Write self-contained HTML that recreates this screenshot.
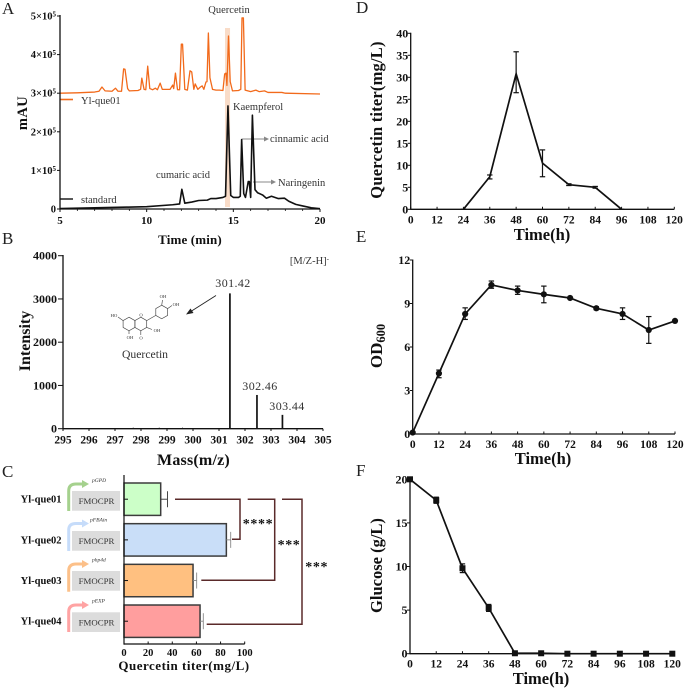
<!DOCTYPE html>
<html lang="en">
<head>
<meta charset="utf-8">
<title>Quercetin production figure</title>
<style>
html,body{margin:0;padding:0;background:#fff;width:685px;height:690px;overflow:hidden}
svg{display:block;font-family:"Liberation Serif",serif;filter:blur(0.3px)}
text{fill:#111}
.b{font-weight:bold}
.ann{fill:#333}
.mol{font-size:4.6px;fill:#333;text-anchor:middle}
.panel{font-size:17px;fill:#222}
</style>
</head>
<body>
<svg id="fig" xmlns="http://www.w3.org/2000/svg" width="685" height="690" viewBox="0 0 685 690">
  <text class="panel" x="2" y="14">A</text>
  <text class="panel" x="2" y="244">B</text>
  <text class="panel" x="2" y="477">C</text>
  <text class="panel" x="356" y="13">D</text>
  <text class="panel" x="356" y="242">E</text>
  <text class="panel" x="356" y="476">F</text>

  <!-- Panel A annotations -->
  <g id="a-under"></g>
  <text x="229" y="13" font-size="10.5" text-anchor="middle" class="ann">Quercetin</text>
  <text x="233" y="110" font-size="10.5" class="ann">Kaempferol</text>
  <text x="270" y="142" font-size="10.5" class="ann">cinnamic acid</text>
  <text x="278" y="186" font-size="10.5" class="ann">Naringenin</text>
  <text x="183" y="178" font-size="10.5" text-anchor="middle" class="ann">cumaric acid</text>
  <text x="81" y="104" font-size="10.5" class="ann">Yl-que01</text>
  <text x="81" y="203" font-size="10.5" class="ann">standard</text>
  <line x1="60" y1="99.5" x2="73" y2="99.5" stroke="#f26a1b" stroke-width="1.6"/>
  <line x1="60" y1="199" x2="73" y2="199" stroke="#111" stroke-width="1.4"/>
  <g>
    <line x1="242" y1="139" x2="265" y2="139" stroke="#888" stroke-width="0.9"/>
    <polygon points="264,136.5 269,139 264,141.5" fill="#888"/>
  </g>
  <g>
    <line x1="253" y1="182" x2="272" y2="182" stroke="#888" stroke-width="0.9"/>
    <polygon points="271,179.5 276,182 271,184.5" fill="#888"/>
  </g>
  <text class="b" x="190" y="244" font-size="13" text-anchor="middle" letter-spacing="0.15">Time (min)</text>
  <text class="b" transform="translate(27,113) rotate(-90)" font-size="14.5" text-anchor="middle" letter-spacing="0.4">mAU</text>

  <!-- Panel B annotations -->
  <text x="329" y="264" font-size="10.5" text-anchor="end" class="ann">[M/Z-H]<tspan font-size="7" dy="-3">-</tspan></text>
  <text x="233" y="287" font-size="12" text-anchor="middle" class="ann" letter-spacing="0.4">301.42</text>
  <text x="260" y="390" font-size="12" text-anchor="middle" class="ann" letter-spacing="0.4">302.46</text>
  <text x="287" y="410" font-size="12" text-anchor="middle" class="ann" letter-spacing="0.4">303.44</text>
  <g>
    <line x1="216" y1="295.5" x2="190" y2="312" stroke="#222" stroke-width="0.9"/>
    <polygon points="186,314.5 190.5,308.5 193.5,313" fill="#222"/>
  </g>
  <g fill="none" stroke="#444" stroke-width="0.65">
    <polygon points="129,317.2 134.9,320.6 134.9,327.4 129,330.8 123.1,327.4 123.1,320.6"/>
    <polygon points="140.8,317.2 146.7,320.6 146.7,327.4 140.8,330.8 134.9,327.4 134.9,320.6"/>
    <polygon points="161.7,305.2 167.6,308.6 167.6,315.4 161.7,318.8 155.8,315.4 155.8,308.6"/>
    <line x1="146.7" y1="320.6" x2="155.8" y2="315.4"/>
    <line x1="123.1" y1="320.6" x2="118" y2="317"/>
    <line x1="129" y1="330.8" x2="129" y2="334"/>
    <line x1="140.8" y1="330.8" x2="140.8" y2="335"/>
    <line x1="146.7" y1="327.4" x2="152" y2="329.5"/>
    <line x1="161.7" y1="305.2" x2="162.5" y2="300"/>
    <line x1="167.6" y1="308.6" x2="172" y2="305.5"/>
    <text class="mol" stroke="none" x="114" y="317">HO</text>
    <text class="mol" stroke="none" x="130" y="339">OH</text>
    <text class="mol" stroke="none" x="141" y="339.5">O</text>
    <text class="mol" stroke="none" x="157" y="332">OH</text>
    <text class="mol" stroke="none" x="163" y="298">OH</text>
    <text class="mol" stroke="none" x="176" y="306">OH</text>
    <text class="mol" stroke="none" x="141" y="316.5">O</text>
  </g>
  <text x="145" y="358" font-size="11.7" text-anchor="middle" class="ann">Quercetin</text>
  <text class="b" x="193.5" y="465" font-size="16" text-anchor="middle" letter-spacing="0.2">Mass(m/z)</text>
  <text class="b" transform="translate(30,341) rotate(-90)" font-size="16" text-anchor="middle">Intensity</text>

  <!-- Panel C constructs -->
  <g>
    <rect x="72" y="491" width="48" height="19.7" fill="#dcdcdc"/>
    <text x="96.5" y="504" font-size="8.8" text-anchor="middle" class="ann">FMOCPR</text>
    <path d="M68.7 511V491Q68.7 484 76 484H83" fill="none" stroke="#a5d18d" stroke-width="3"/>
    <polygon points="82,480 89,484 82,488" fill="#a5d18d"/>
    <text x="92" y="482" font-size="5.5" font-style="italic" class="ann">pGPD</text>
  </g>
  <g>
    <rect x="72" y="531" width="48" height="19.7" fill="#dcdcdc"/>
    <text x="96.5" y="544" font-size="8.8" text-anchor="middle" class="ann">FMOCPR</text>
    <path d="M68.7 551V530Q68.7 523.5 76 523.5H83" fill="none" stroke="#c6dcfa" stroke-width="3"/>
    <polygon points="82,519.5 89,523.5 82,527.5" fill="#c6dcfa"/>
    <text x="90" y="521.7" font-size="5.5" font-style="italic" class="ann">pFBAin</text>
  </g>
  <g>
    <rect x="72" y="571" width="48" height="19.7" fill="#dcdcdc"/>
    <text x="96.5" y="584" font-size="8.8" text-anchor="middle" class="ann">FMOCPR</text>
    <path d="M68.7 591.7V571Q68.7 564 76 564H83" fill="none" stroke="#fcc089" stroke-width="3"/>
    <polygon points="82,560 89,564 82,568" fill="#fcc089"/>
    <text x="92" y="561.7" font-size="5.5" font-style="italic" class="ann">php4d</text>
  </g>
  <g>
    <rect x="72" y="612.3" width="48" height="19.7" fill="#dcdcdc"/>
    <text x="96.5" y="625.3" font-size="8.8" text-anchor="middle" class="ann">FMOCPR</text>
    <path d="M68.7 632V612Q68.7 605 76 605H83" fill="none" stroke="#ffa3a3" stroke-width="3"/>
    <polygon points="82,601 89,605 82,609" fill="#ffa3a3"/>
    <text x="92" y="602.7" font-size="5.5" font-style="italic" class="ann">pEXP</text>
  </g>
  <g fill="none" stroke="#5a2a2a" stroke-width="1.5">
    <polyline points="175,499.3 240,499.3 240,539.3 232,539.3"/>
    <polyline points="247.7,499.3 274.7,499.3 274.7,580.3 201.3,580.3"/>
    <polyline points="282,499.3 302,499.3 302,624.3 206.7,624.3"/>
  </g>
  <text class="b" x="258" y="528" font-size="14" text-anchor="middle" letter-spacing="0.6">****</text>
  <text class="b" x="289" y="549" font-size="14" text-anchor="middle" letter-spacing="0.6">***</text>
  <text class="b" x="316.7" y="571" font-size="14" text-anchor="middle" letter-spacing="0.6">***</text>
  <text class="b" x="184" y="670" font-size="13" text-anchor="middle" letter-spacing="0.5">Quercetin titer(mg/L)</text>

  <!-- Right column titles -->
  <text class="b" x="542" y="240" font-size="16.5" text-anchor="middle">Time(h)</text>
  <text class="b" transform="translate(382,120) rotate(-90)" font-size="16.5" text-anchor="middle" letter-spacing="0.2">Quercetin titer(mg/L)</text>
  <text class="b" x="543" y="464" font-size="16.5" text-anchor="middle">Time(h)</text>
  <text class="b" transform="translate(382,346) rotate(-90)" font-size="17" text-anchor="middle">OD<tspan font-size="12.5" dy="3">600</tspan></text>
  <text class="b" x="541" y="684" font-size="16.5" text-anchor="middle">Time(h)</text>
  <text class="b" transform="translate(382,565.5) rotate(-90)" font-size="16.5" text-anchor="middle">Glucose (g/L)</text>
</svg>

<script>
// Panel A – chromatograms (retention time in min, signal in units of 10^5 mAU)
const aOrangeTimes = [5,6,7,7.25,7.42,7.6,8,8.2,8.35,8.55,8.67,8.75,8.9,9,9.5,9.65,9.72,9.85,9.95,10.06,10.18,10.35,10.5,10.62,10.78,10.9,11.35,11.5,11.56,11.66,11.78,11.9,12,12.07,12.2,12.35,12.5,12.6,12.72,12.8,12.95,13.1,13.2,13.3,13.42,13.48,13.56,13.65,13.8,14,14.2,14.4,14.5,14.58,14.63,14.72,14.82,14.95,15.3,15.43,15.5,15.58,15.68,16,16.3,16.5,16.8,17,17.8,18,20];
const aOrangeValues = [3,3.01,3.03,3.05,3.16,3.06,3.05,3.13,3.05,3.05,3.63,3.62,3.12,3.06,3.07,3.1,3.39,3.1,3.09,3.7,3.12,3.09,3.13,3.09,3.26,3.1,3.1,3.21,3.12,3.52,3.09,3.09,4.27,4.27,3.1,3.08,3.58,3.55,3.1,3.24,3.1,3.16,3.19,3.1,3.29,3.3,4.56,3.4,3.1,3.08,3.08,3.07,3.5,3.52,3.2,4.48,3.3,3.06,3.07,3.1,4.95,4.95,3.08,3.04,3.08,3.04,3.06,3.02,3.02,3,2.98];
const aBlackTimes = [5,10,11.5,11.9,12.03,12.2,12.6,13,13.5,13.7,14,14.4,14.55,14.69,14.85,15,15.3,15.4,15.48,15.6,15.7,15.86,15.92,16,16.1,16.25,16.4,16.6,16.7,16.9,17.2,17.6,17.95,18.2,18.6,19,19.5,20];
const aBlackValues = [0.01,0.06,0.11,0.13,0.51,0.15,0.18,0.22,0.23,0.27,0.27,0.3,0.33,2.67,0.35,0.3,0.3,0.33,1.8,0.4,0.3,0.71,0.71,0.3,2.43,0.5,0.42,0.38,0.36,0.28,0.33,0.27,0.28,0.2,0.12,0.08,0.03,0.01];
const aXTicks = [5,10,15,20];
const aXMinorTicks = [6,7,8,9,11,12,13,14,16,17,18,19];
const aYTicks = [0,1,2,3,4,5];

// Panel B – mass spectrum
const bMasses = [297.7,298.7,299.6,301.42,302.46,303.44];
const bIntensities = [25,25,25,3130,780,320];
const bXTicks = [295,296,297,298,299,300,301,302,303,304,305];
const bYTicks = [0,1000,2000,3000,4000];

// Panel C – strain titers
const cStrains = ['Yl-que01','Yl-que02','Yl-que03','Yl-que04'];
const cValues = [30.4,84.8,57.2,63];
const cErrHigh = [36,88.4,60.2,65.7];
const cColors = ['#ccffc8','#c9def8','#ffc080','#ff9e9e'];
const cErrColors = ['#333','#888','#888','#888'];
const cXTicks = [0,20,40,60,80,100];

// Panel D – quercetin titer over time
const dTimes = [24,36,48,60,72,84,96];
const dValues = [0,7.4,30.8,10.5,5.6,5,0];
const dErrLow = [0,6.9,26.5,7.4,5.4,4.8,0];
const dErrHigh = [0,7.8,35.8,13.5,5.8,5.2,0];
const dYTicks = [0,5,10,15,20,25,30,35,40];

// Panel E – OD600 over time
const eTimes = [0,12,24,36,48,60,72,84,96,108,120];
const eValues = [0.1,4.18,8.28,10.28,9.9,9.63,9.38,8.67,8.28,7.17,7.8];
const eErrLow = [0.05,3.88,7.9,10.05,9.63,9.05,9.33,8.57,7.9,6.25,7.75];
const eErrHigh = [0.15,4.41,8.7,10.55,10.2,10.2,9.43,8.77,8.7,8.1,7.85];
const eYTicks = [0,3,6,9,12];

// Panel F – glucose over time
const fTimes = [0,12,24,36,48,60,72,84,96,108,120];
const fValues = [20,17.6,9.8,5.25,0.05,0.05,0,0,0,0,0];
const fErrLow = [19.9,17.25,9.3,4.85,0,0,0,0,0,0,0];
const fErrHigh = [20.1,17.95,10.3,5.65,0.1,0.1,0,0,0,0,0];
const fYTicks = [0,5,10,15,20];

const timeTicks = [0,12,24,36,48,60,72,84,96,108,120];

const NS = 'http://www.w3.org/2000/svg';
const fig = document.getElementById('fig');
function mk(tag, attrs, parent) {
  const n = document.createElementNS(NS, tag);
  for (const k in attrs) n.setAttribute(k, attrs[k]);
  (parent || fig).appendChild(n);
  return n;
}
function linear(d0, d1, r0, r1) {
  return function (v) { return r0 + (v - d0) / (d1 - d0) * (r1 - r0); };
}
function axisLine(x1, y1, x2, y2, w, name) {
  const el = mk('line', {x1: x1, y1: y1, x2: x2, y2: y2, stroke: '#111', 'stroke-width': w});
  
  
  return el;
}
function tickLabel(x, y, txt, anchor, size, name) {
  const el = mk('text', {x: x, y: y, 'text-anchor': anchor, 'font-size': size, 'font-weight': 'bold'});
  el.textContent = txt;
  
  
  return el;
}
function pts(xs, ys, sx, sy) {
  return xs.map(function (t, i) { return sx(t).toFixed(2) + ',' + sy(ys[i]).toFixed(2); }).join(' ');
}

/* ---------- Panel A ---------- */
const axA = linear(5, 20, 60, 320);
const ayA = linear(0, 5, 209, 16);
const hl = mk('rect', {x: axA(14.52), y: 28, width: axA(14.81) - axA(14.52), height: 179, fill: '#f9dcc8'}, document.getElementById('a-under'));


const orange = mk('polyline', {points: pts(aOrangeTimes, aOrangeValues, axA, ayA), fill: 'none', stroke: '#f26a1b', 'stroke-width': 1.3, 'stroke-linejoin': 'round'});


const black = mk('polyline', {points: pts(aBlackTimes, aBlackValues, axA, ayA), fill: 'none', stroke: '#111', 'stroke-width': 1.6, 'stroke-linejoin': 'round'});


axisLine(60, 15, 60, 209.6, 1.3, 'panel-a-y-axis');
axisLine(60, 209, 320, 209, 1.3, 'panel-a-x-axis');
aXTicks.forEach(function (t) {
  axisLine(axA(t), 209, axA(t), 212, 1, 'panel-a-x-tick');
  tickLabel(axA(t), 224, String(t), 'middle', 11, 'panel-a-x-tick-label');
});
aXMinorTicks.forEach(function (t) {
  axisLine(axA(t), 209, axA(t), 211, 0.8, 'panel-a-x-minor-tick');
});
aYTicks.forEach(function (v) {
  axisLine(57, ayA(v), 60, ayA(v), 1, 'panel-a-y-tick');
  const el = tickLabel(56, ayA(v) + 3.5, v === 0 ? '0' : v + '×10', 'end', 10.5, 'panel-a-y-tick-label');
  if (v !== 0) {
    el.setAttribute('x', 52.5);
    const sup = mk('text', {x: 52.5, y: ayA(v) + 0.5, 'font-size': 7, 'font-weight': 'bold'});
    sup.textContent = '5';
    
    
  }
});

/* ---------- Panel B ---------- */
const axB = linear(295, 305, 63, 323);
const ayB = linear(0, 4000, 428.7, 255.7);
bMasses.forEach(function (m, i) {
  const el = axisLine(axB(m), ayB(0), axB(m), ayB(bIntensities[i]), bIntensities[i] > 100 ? 1.7 : 0.8, 'spectrum-peak');
  el.setAttribute('stroke', '#111');
});
axisLine(63, 255, 63, 429.4, 1.3, 'panel-b-y-axis');
axisLine(63, 428.7, 323, 428.7, 1.3, 'panel-b-x-axis');
bXTicks.forEach(function (t) {
  axisLine(axB(t), 428.7, axB(t), 431, 1, 'panel-b-x-tick');
  tickLabel(axB(t), 443.5, String(t), 'middle', 11.5, 'panel-b-x-tick-label');
});
bYTicks.forEach(function (v) {
  axisLine(58, ayB(v), 63, ayB(v), 1, 'panel-b-y-tick');
  tickLabel(57, ayB(v) + 4, String(v), 'end', 12, 'panel-b-y-tick-label');
});

/* ---------- Panel C ---------- */
const axC = linear(0, 100, 124, 244.7);
function bandTop(i) { return 483 + i * 40.67; }
const bandH = 32.4;
cStrains.forEach(function (s, i) {
  const y0 = bandTop(i), mid = y0 + bandH / 2;
  const bar = mk('rect', {x: axC(0), y: y0, width: axC(cValues[i]) - axC(0), height: bandH, fill: cColors[i], stroke: '#3c3c3c', 'stroke-width': 1.5});
  
  
  const eb = axisLine(axC(cValues[i]), mid, axC(cErrHigh[i]), mid, 0.9, 'titer-error-bar');
  eb.setAttribute('stroke', cErrColors[i]);
  const cap = axisLine(axC(cErrHigh[i]), mid - 8, axC(cErrHigh[i]), mid + 8, 0.9, 'titer-error-cap');
  cap.setAttribute('stroke', cErrColors[i]);
  axisLine(124, mid, 128, mid, 1, 'panel-c-y-tick');
  tickLabel(61.5, mid + 3.5, s, 'end', 10.5, 'strain-label');
});
axisLine(124, 475, 124, 644.6, 1.2, 'panel-c-y-axis');
axisLine(124, 644, 244.7, 644, 1.2, 'panel-c-x-axis');
cXTicks.forEach(function (t) {
  axisLine(axC(t), 641.5, axC(t), 644, 1, 'panel-c-x-tick');
  tickLabel(axC(t), 656, String(t), 'middle', 10.5, 'panel-c-x-tick-label');
});

/* ---------- Line panels D, E, F ---------- */
function linePanel(box, times, values, low, high, yTicks, yMax, marker, prefix) {
  const sx = linear(0, 120, box.x0, box.x1);
  const sy = linear(0, yMax, box.y0, box.y1);
  const line = mk('polyline', {points: pts(times, values, sx, sy), fill: 'none', stroke: '#111', 'stroke-width': 1.7, 'stroke-linejoin': 'miter'});
  
  
  times.forEach(function (t, i) {
    const x = sx(t);
    axisLine(x, sy(low[i]), x, sy(high[i]), 1.2, prefix + '-error-bar');
    axisLine(x - 2.7, sy(low[i]), x + 2.7, sy(low[i]), 1.2, prefix + '-error-cap-low');
    axisLine(x - 2.7, sy(high[i]), x + 2.7, sy(high[i]), 1.2, prefix + '-error-cap-high');
    if (marker === 'circle') {
      const c = mk('circle', {cx: x, cy: sy(values[i]), r: 3.1, fill: '#111'});
      
      
    } else if (marker === 'square') {
      const r = mk('rect', {x: x - 3, y: sy(values[i]) - 3, width: 6, height: 6, fill: '#111'});
      
      
    }
  });
  axisLine(box.x0, box.y1 - 0.5, box.x0, box.y0 + 0.6, 1.3, prefix + '-y-axis');
  axisLine(box.x0, box.y0, box.x1, box.y0, 1.3, prefix + '-x-axis');
  timeTicks.forEach(function (t) {
    axisLine(sx(t), box.y0 - 2.5, sx(t), box.y0, 1, prefix + '-x-tick');
    tickLabel(sx(t), box.y0 + 14, String(t), 'middle', 11.5, prefix + '-x-tick-label');
  });
  yTicks.forEach(function (v) {
    axisLine(box.x0 - 3, sy(v), box.x0, sy(v), 1, prefix + '-y-tick');
    tickLabel(box.x0 - 2.5, sy(v) + 4, String(v), 'end', 12, prefix + '-y-tick-label');
  });
}
linePanel({x0: 410.7, x1: 674.3, y0: 209.3, y1: 33.3}, dTimes, dValues, dErrLow, dErrHigh, dYTicks, 40, 'none', 'titer');
linePanel({x0: 412.7, x1: 675, y0: 434, y1: 260}, eTimes, eValues, eErrLow, eErrHigh, eYTicks, 12, 'circle', 'od600');
linePanel({x0: 410, x1: 672.3, y0: 653.7, y1: 479.3}, fTimes, fValues, fErrLow, fErrHigh, fYTicks, 20, 'square', 'glucose');
</script>
</body>
</html>
